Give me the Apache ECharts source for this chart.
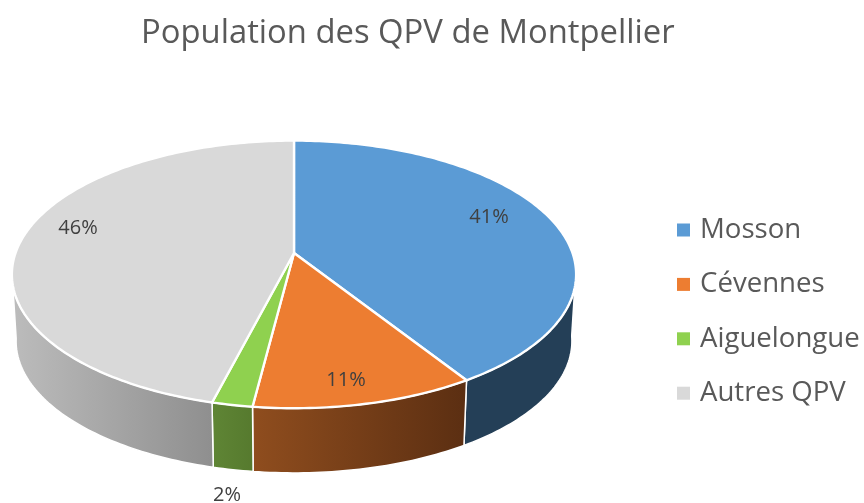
<!DOCTYPE html>
<html>
<head>
<meta charset="utf-8">
<script src="https://cdn.jsdelivr.net/npm/echarts@6/dist/echarts.min.js"></script>
<style>
  html, body { margin: 0; padding: 0; background: #fff; }
  #chart { width: 864px; height: 503px; }
</style>
</head>
<body>
<div id="chart"></div>
<script>
const titleText = "Population des QPV de Montpellier";
const categories = ["Mosson", "Cévennes", "Aiguelongue", "Autres QPV"];
const shares = [41, 11, 2, 46];

const topColors = ["#5b9bd5", "#ed7d31", "#8fd14f", "#d9d9d9"];
// couleur du flanc : [x debut, couleur, x fin, couleur]
const sideColors = [
  [466, "#243f57", 575, "#243f57"],
  [253, "#8f4d1e", 464, "#5c2f12"],
  [213, "#5f8535", 253, "#567a2e"],
  [12, "#bcbcbc", 212, "#8f8f8f"],
];
// position des etiquettes de pourcentage
const labelPos = [[489, 217], [346, 380], [227, 495], [78, 228]];

const FONT = "Open Sans";
const CX = 294, CY = 253;   // sommet du camembert
const RX = 278.5, RY = 130.4; // demi-axes avant perspective
const K = 0.16;             // force de la perspective
const DEPTH = 67, BOTTOM_SCALE = 0.985;
const SIDE_FROM = 97, SIDE_TO = 262; // partie visible du flanc, en degres

const total = shares.reduce((a, b) => a + b, 0);

function rim(deg) {
  const t = deg * Math.PI / 180;
  const x = Math.sin(t), y = -Math.cos(t);
  const w = 1 - K * y;
  return [CX + RX * x / w, CY + RY * y / w];
}
function rimBottom(deg) {
  const p = rim(deg);
  return [
    CX + BOTTOM_SCALE * (p[0] - CX),
    CY + DEPTH + BOTTOM_SCALE * (p[1] - CY),
  ];
}
function arc(fn, a, b) {
  const pts = [];
  const n = Math.max(2, Math.ceil(Math.abs(b - a)));
  for (let i = 0; i <= n; i++) pts.push(fn(a + (b - a) * i / n));
  return pts;
}

function makeSeries(idx) {
  const before = shares.slice(0, idx).reduce((a, b) => a + b, 0);
  const start = before / total * 360;
  const end = (before + shares[idx]) / total * 360;
  return {
    name: categories[idx],
    type: "custom",
    coordinateSystem: "none",
    silent: true,
    animation: false,
    itemStyle: { color: topColors[idx] },
    data: [[shares[idx]]],
    renderItem: () => {
      const children = [];
      const a = Math.max(start, SIDE_FROM), b = Math.min(end, SIDE_TO);
      if (b > a) {
        const c = sideColors[idx];
        children.push({
          type: "polygon",
          z2: 1,
          shape: { points: arc(rim, a, b).concat(arc(rimBottom, b, a)) },
          style: {
            fill: new echarts.graphic.LinearGradient(c[0], 0, c[2], 0, [
              { offset: 0, color: c[1] },
              { offset: 1, color: c[3] },
            ], true),
            stroke: "#fff",
            lineWidth: 1.5,
            lineJoin: "round",
          },
        });
      }
      children.push({
        type: "polygon",
        z2: 2,
        shape: { points: [[CX, CY]].concat(arc(rim, start, end)) },
        style: { fill: topColors[idx], stroke: "#fff", lineWidth: 2.4, lineJoin: "round" },
      });
      children.push({
        type: "text",
        z2: 5,
        style: {
          x: labelPos[idx][0],
          y: labelPos[idx][1],
          text: shares[idx] + "%",
          fill: "#404040",
          font: "20px '" + FONT + "'",
          align: "center",
          verticalAlign: "middle",
        },
      });
      return { type: "group", children };
    },
  };
}

const myChart = echarts.init(document.getElementById("chart"), null, { renderer: "canvas" });
myChart.setOption({
  animation: false,
  title: {
    text: titleText,
    left: 136,
    top: 12,
    textStyle: { fontFamily: FONT, fontSize: 32.8, fontWeight: "normal", color: "#595959" },
  },
  legend: {
    orient: "vertical",
    left: 672,
    top: 206,
    icon: "rect",
    itemWidth: 13,
    itemHeight: 13,
    itemGap: 16.4,
    selectedMode: false,
    data: categories,
    textStyle: { fontFamily: FONT, fontSize: 27.6, color: "#595959", padding: [0, 0, 0, 5], lineHeight: 38 },
  },
  series: categories.map((_, i) => makeSeries(i)),
});
</script>
</body>
</html>
